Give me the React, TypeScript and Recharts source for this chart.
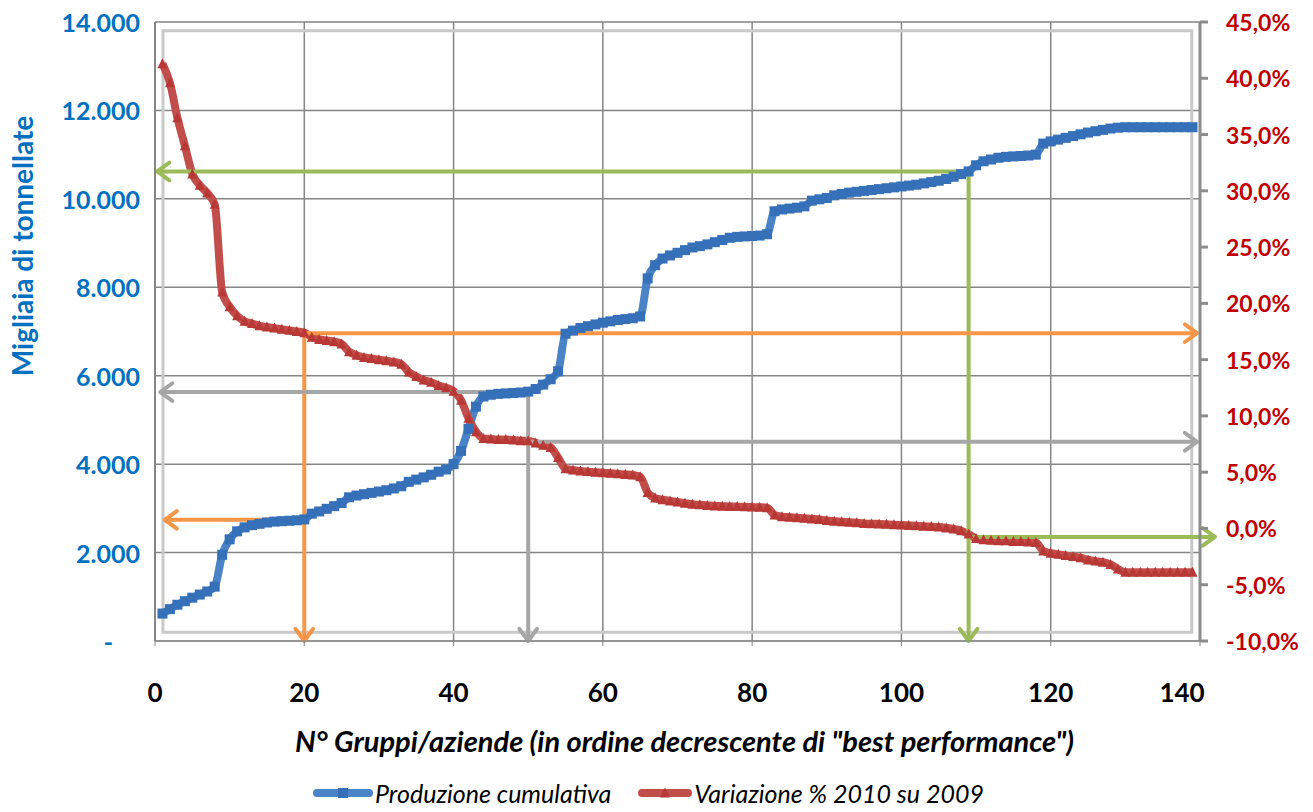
import {
  CartesianGrid,
  ComposedChart,
  Legend,
  Line,
  ReferenceArea,
  ReferenceLine,
  XAxis,
  YAxis,
} from 'recharts'

const FONT = 'Lato, "Open Sans", sans-serif'
const BLUE = '#4A83C6'
const BLUE_DOT = '#3570B8'
const RED = '#C24E4B'
const RED_DOT = '#B83836'
const GREEN = '#9BBB59'
const ORANGE = '#F79646'
const GRAY = '#A6A6A6'

// produzione cumulativa (migliaia di tonnellate), gruppi 1..139
const produzione = [
  620, 720, 820, 900, 980, 1050, 1120, 1230, 1950, 2300,
  2480, 2570, 2620, 2650, 2680, 2700, 2710, 2720, 2730, 2750,
  2880, 2930, 2990, 3050, 3120, 3250, 3290, 3320, 3350, 3380,
  3410, 3450, 3500, 3600, 3650, 3700, 3760, 3830, 3880, 4000,
  4300, 4800, 5300, 5530, 5570, 5590, 5600, 5610, 5620, 5640,
  5700, 5800, 5920, 6100, 6950, 7020, 7080, 7120, 7160, 7200,
  7230, 7260, 7280, 7300, 7340, 8200, 8500, 8650, 8720, 8780,
  8840, 8900, 8930, 8970, 9020, 9070, 9120, 9140, 9150, 9160,
  9170, 9200, 9720, 9760, 9780, 9800, 9830, 9960, 9990, 10020,
  10080, 10110, 10140, 10160, 10180, 10200, 10220, 10240, 10260, 10280,
  10300, 10320, 10350, 10380, 10410, 10450, 10500, 10560, 10620, 10760,
  10850, 10890, 10930, 10950, 10960, 10970, 10980, 11000, 11250, 11300,
  11340, 11380, 11420, 11460, 11500, 11530, 11560, 11590, 11610, 11620,
  11620, 11620, 11620, 11620, 11620, 11620, 11620, 11620, 11620,
]

// variazione % 2010 su 2009
const variazione = [
  41.3, 39.6, 36.5, 34.0, 31.5, 30.5, 29.8, 28.8, 21.0, 19.7,
  18.9, 18.4, 18.2, 18.0, 17.9, 17.8, 17.7, 17.6, 17.5, 17.4,
  17.0, 16.8, 16.7, 16.6, 16.4, 15.7, 15.4, 15.2, 15.1, 15.0,
  14.9, 14.8, 14.6, 13.9, 13.5, 13.2, 13.0, 12.7, 12.5, 12.2,
  11.4, 9.8, 8.6, 8.0, 7.95, 7.9, 7.9, 7.85, 7.8, 7.8,
  7.6, 7.4, 7.2, 6.3, 5.3, 5.2, 5.1, 5.05, 5.0, 4.95,
  4.9, 4.85, 4.8, 4.75, 4.6, 3.2, 2.7, 2.55, 2.45, 2.35,
  2.25, 2.15, 2.1, 2.05, 2.0, 1.98, 1.96, 1.94, 1.92, 1.9,
  1.88, 1.85, 1.2, 1.05, 1.0, 0.95, 0.9, 0.85, 0.8, 0.7,
  0.65, 0.6, 0.55, 0.5, 0.45, 0.42, 0.4, 0.37, 0.34, 0.3,
  0.27, 0.24, 0.2, 0.17, 0.13, 0.05, -0.05, -0.2, -0.5, -0.9,
  -1.0, -1.05, -1.1, -1.1, -1.15, -1.15, -1.2, -1.25, -2.0, -2.2,
  -2.3, -2.4, -2.5, -2.6, -2.8, -2.9, -3.0, -3.2, -3.6, -3.9,
  -3.9, -3.9, -3.9, -3.9, -3.9, -3.9, -3.9, -3.9, -3.9,
]

const xTicks = [0, 20, 40, 60, 80, 100, 120, 140]
const leftTicks = [0, 2000, 4000, 6000, 8000, 10000, 12000, 14000]
const rightTicks = [-10, -5, 0, 5, 10, 15, 20, 25, 30, 35, 40, 45]

// frecce di lettura: gruppo, produzione cumulativa, variazione
const frecciaVerde = { n: 109, prod: 10620, varPct: -0.75 }
const frecciaArancio = { n: 20, prod: 2740, varPct: 17.35 }
const frecciaGrigia = { n: 50, prod: 5630, varPct: 7.7 }

const data = produzione.map((p, i) => ({
  n: i + 1,
  produzione: p,
  variazione: variazione[i],
}))

const fmtThousands = (v: number) =>
  String(v).replace(/\B(?=(\d{3})+(?!\d))/g, '.')

const LeftTick = (p: any) => {
  const v = p.payload.value
  return (
    <text
      x={p.x}
      y={p.y}
      dx={v === 0 ? -27 : 0}
      textAnchor="end"
      dominantBaseline="central"
      fill="#0070C0"
      fontFamily={FONT}
      fontWeight={700}
      fontSize={25}
    >
      {v === 0 ? '-' : fmtThousands(v)}
    </text>
  )
}

const RightTick = (p: any) => (
  <text
    x={p.x}
    y={p.y}
    textAnchor="start"
    dominantBaseline="central"
    fill="#C00000"
    fontFamily={FONT}
    fontWeight={700}
    fontSize={23}
  >
    {`${p.payload.value.toFixed(1).replace('.', ',')}%`}
  </text>
)

const BottomTick = (p: any) => (
  <text
    x={p.x}
    y={p.y + 44}
    dx={p.payload.value === 140 ? -18 : 0}
    textAnchor="middle"
    dominantBaseline="central"
    fill="#000"
    fontFamily={FONT}
    fontWeight={700}
    fontSize={26}
  >
    {p.payload.value}
  </text>
)

const SquareDot = (p: any) =>
  p.cx == null ? null : (
    <rect key={`sq${p.index}`} x={p.cx - 5} y={p.cy - 5} width={10} height={10} fill={BLUE_DOT} />
  )

const TriangleDot = (p: any) =>
  p.cx == null ? null : (
    <polygon
      key={`tr${p.index}`}
      points={`${p.cx},${p.cy - 5.5} ${p.cx + 5},${p.cy + 4.5} ${p.cx - 5},${p.cy + 4.5}`}
      fill={RED_DOT}
    />
  )

const arrow = (color: string) => (p: any) => {
  const { x1, y1, x2, y2 } = p
  const a = Math.atan2(y2 - y1, x2 - x1)
  const len = 15
  const sp = Math.PI / 5
  const ax = x2 - len * Math.cos(a - sp)
  const ay = y2 - len * Math.sin(a - sp)
  const bx = x2 - len * Math.cos(a + sp)
  const by = y2 - len * Math.sin(a + sp)
  return (
    <g>
      <line x1={x1} y1={y1} x2={x2} y2={y2} stroke={color} strokeWidth={4} />
      <polyline
        points={`${ax},${ay} ${x2},${y2} ${bx},${by}`}
        fill="none"
        stroke={color}
        strokeWidth={4}
        strokeLinecap="round"
        strokeLinejoin="round"
      />
    </g>
  )
}

const LegendContent = () => (
  <div
    style={{
      height: 40,
      display: 'flex',
      alignItems: 'flex-start',
      paddingLeft: 312,
      paddingTop: 6,
      boxSizing: 'border-box',
      fontFamily: FONT,
      fontStyle: 'italic',
      fontSize: 25,
      lineHeight: '30px',
      color: '#000',
      whiteSpace: 'nowrap',
    }}
  >
    <svg width={62} height={30} style={{ display: 'block' }}>
      <line x1={5} y1={15} x2={57} y2={15} stroke={BLUE} strokeWidth={8} strokeLinecap="round" />
      <rect x={26} y={10} width={10} height={10} fill={BLUE_DOT} />
    </svg>
    <span style={{ marginLeft: 1, marginRight: 26 }}>Produzione cumulativa</span>
    <svg width={56} height={30} style={{ display: 'block' }}>
      <line x1={5} y1={15} x2={51} y2={15} stroke={RED} strokeWidth={8} strokeLinecap="round" />
      <polygon points="28,9.5 33,19.5 23,19.5" fill={RED_DOT} />
    </svg>
    <span style={{ marginLeft: 1 }}>Variazione % 2010 su 2009</span>
  </div>
)

export default function App() {
  return (
    <div style={{ position: 'absolute', left: 0, top: 0, background: '#fff' }}>
      <ComposedChart
        width={1313}
        height={812}
        data={data}
        margin={{ top: 22, right: 0, bottom: 0, left: 0 }}
      >
        <CartesianGrid yAxisId="left" stroke="#858585" strokeWidth={1.5} />
        <ReferenceArea
          yAxisId="left"
          x1={1.07}
          x2={138.9}
          y1={200}
          y2={13800}
          fill="none"
          stroke="#c9c9c9"
          strokeWidth={3}
          ifOverflow="visible"
        />
        <XAxis
          dataKey="n"
          type="number"
          domain={[0, 140]}
          ticks={xTicks}
          interval={0}
          height={131}
          stroke="#858585"
          tickSize={5}
          tick={BottomTick}
          label={{
            content: (props: any) => {
              const vb = props.viewBox
              return (
                <text
                  x={vb.x + vb.width / 2 + 7}
                  y={vb.y + 99}
                  textAnchor="middle"
                  dominantBaseline="central"
                  fontFamily={FONT}
                  fontWeight={700}
                  fontStyle="italic"
                  fontSize={29}
                  fill="#000"
                >
                  N° Gruppi/aziende (in ordine decrescente di "best performance")
                </text>
              )
            },
          }}
        />
        <YAxis
          yAxisId="left"
          domain={[0, 14000]}
          ticks={leftTicks}
          interval={0}
          width={155}
          stroke="#858585"
          strokeWidth={2}
          tickSize={6}
          tickMargin={9}
          tickLine={false}
          tick={LeftTick}
          label={{
            content: (props: any) => {
              const vb = props.viewBox
              const cx = vb.x + 22
              const cy = vb.y + 224
              return (
                <text
                  x={cx}
                  y={cy}
                  transform={`rotate(-90 ${cx} ${cy})`}
                  textAnchor="middle"
                  dominantBaseline="central"
                  fontFamily={FONT}
                  fontWeight={700}
                  fontSize={28}
                  fill="#0070C0"
                >
                  Migliaia di tonnellate
                </text>
              )
            },
          }}
        />
        <YAxis
          yAxisId="right"
          orientation="right"
          domain={[-10, 45]}
          ticks={rightTicks}
          interval={0}
          width={113}
          stroke="#8c8c8c"
          strokeWidth={3}
          tickSize={8}
          tickMargin={18}
          tick={RightTick}
        />
        <Legend verticalAlign="bottom" content={LegendContent} />
        <Line
          yAxisId="left"
          type="monotone"
          dataKey="produzione"
          name="Produzione cumulativa"
          stroke={BLUE}
          strokeWidth={8}
          dot={SquareDot}
          activeDot={false}
          isAnimationActive={false}
        />
        <Line
          yAxisId="right"
          type="monotone"
          dataKey="variazione"
          name="Variazione % 2010 su 2009"
          stroke={RED}
          strokeWidth={8}
          dot={TriangleDot}
          activeDot={false}
          isAnimationActive={false}
        />

        {/* verde */}
        <ReferenceLine
          yAxisId="left"
          ifOverflow="visible"
          segment={[{ x: frecciaVerde.n, y: frecciaVerde.prod }, { x: 0.3, y: frecciaVerde.prod }]}
          shape={arrow(GREEN)}
        />
        <ReferenceLine
          yAxisId="left"
          ifOverflow="visible"
          segment={[{ x: frecciaVerde.n, y: frecciaVerde.prod }, { x: frecciaVerde.n, y: 0 }]}
          shape={arrow(GREEN)}
        />
        <ReferenceLine
          yAxisId="right"
          ifOverflow="visible"
          segment={[{ x: frecciaVerde.n, y: frecciaVerde.varPct }, { x: 142, y: frecciaVerde.varPct }]}
          shape={arrow(GREEN)}
        />

        {/* arancio */}
        <ReferenceLine
          yAxisId="right"
          ifOverflow="visible"
          segment={[{ x: frecciaArancio.n, y: frecciaArancio.varPct }, { x: 139.6, y: frecciaArancio.varPct }]}
          shape={arrow(ORANGE)}
        />
        <ReferenceLine
          yAxisId="right"
          ifOverflow="visible"
          segment={[{ x: frecciaArancio.n, y: frecciaArancio.varPct }, { x: frecciaArancio.n, y: -10 }]}
          shape={arrow(ORANGE)}
        />
        <ReferenceLine
          yAxisId="left"
          ifOverflow="visible"
          segment={[{ x: frecciaArancio.n, y: frecciaArancio.prod }, { x: 1.3, y: frecciaArancio.prod }]}
          shape={arrow(ORANGE)}
        />

        {/* grigio */}
        <ReferenceLine
          yAxisId="left"
          ifOverflow="visible"
          segment={[{ x: frecciaGrigia.n, y: frecciaGrigia.prod }, { x: 0.7, y: frecciaGrigia.prod }]}
          shape={arrow(GRAY)}
        />
        <ReferenceLine
          yAxisId="left"
          ifOverflow="visible"
          segment={[{ x: frecciaGrigia.n, y: frecciaGrigia.prod }, { x: frecciaGrigia.n, y: 0 }]}
          shape={arrow(GRAY)}
        />
        <ReferenceLine
          yAxisId="right"
          ifOverflow="visible"
          segment={[{ x: frecciaGrigia.n, y: frecciaGrigia.varPct }, { x: 139.6, y: frecciaGrigia.varPct }]}
          shape={arrow(GRAY)}
        />
      </ComposedChart>
    </div>
  )
}
